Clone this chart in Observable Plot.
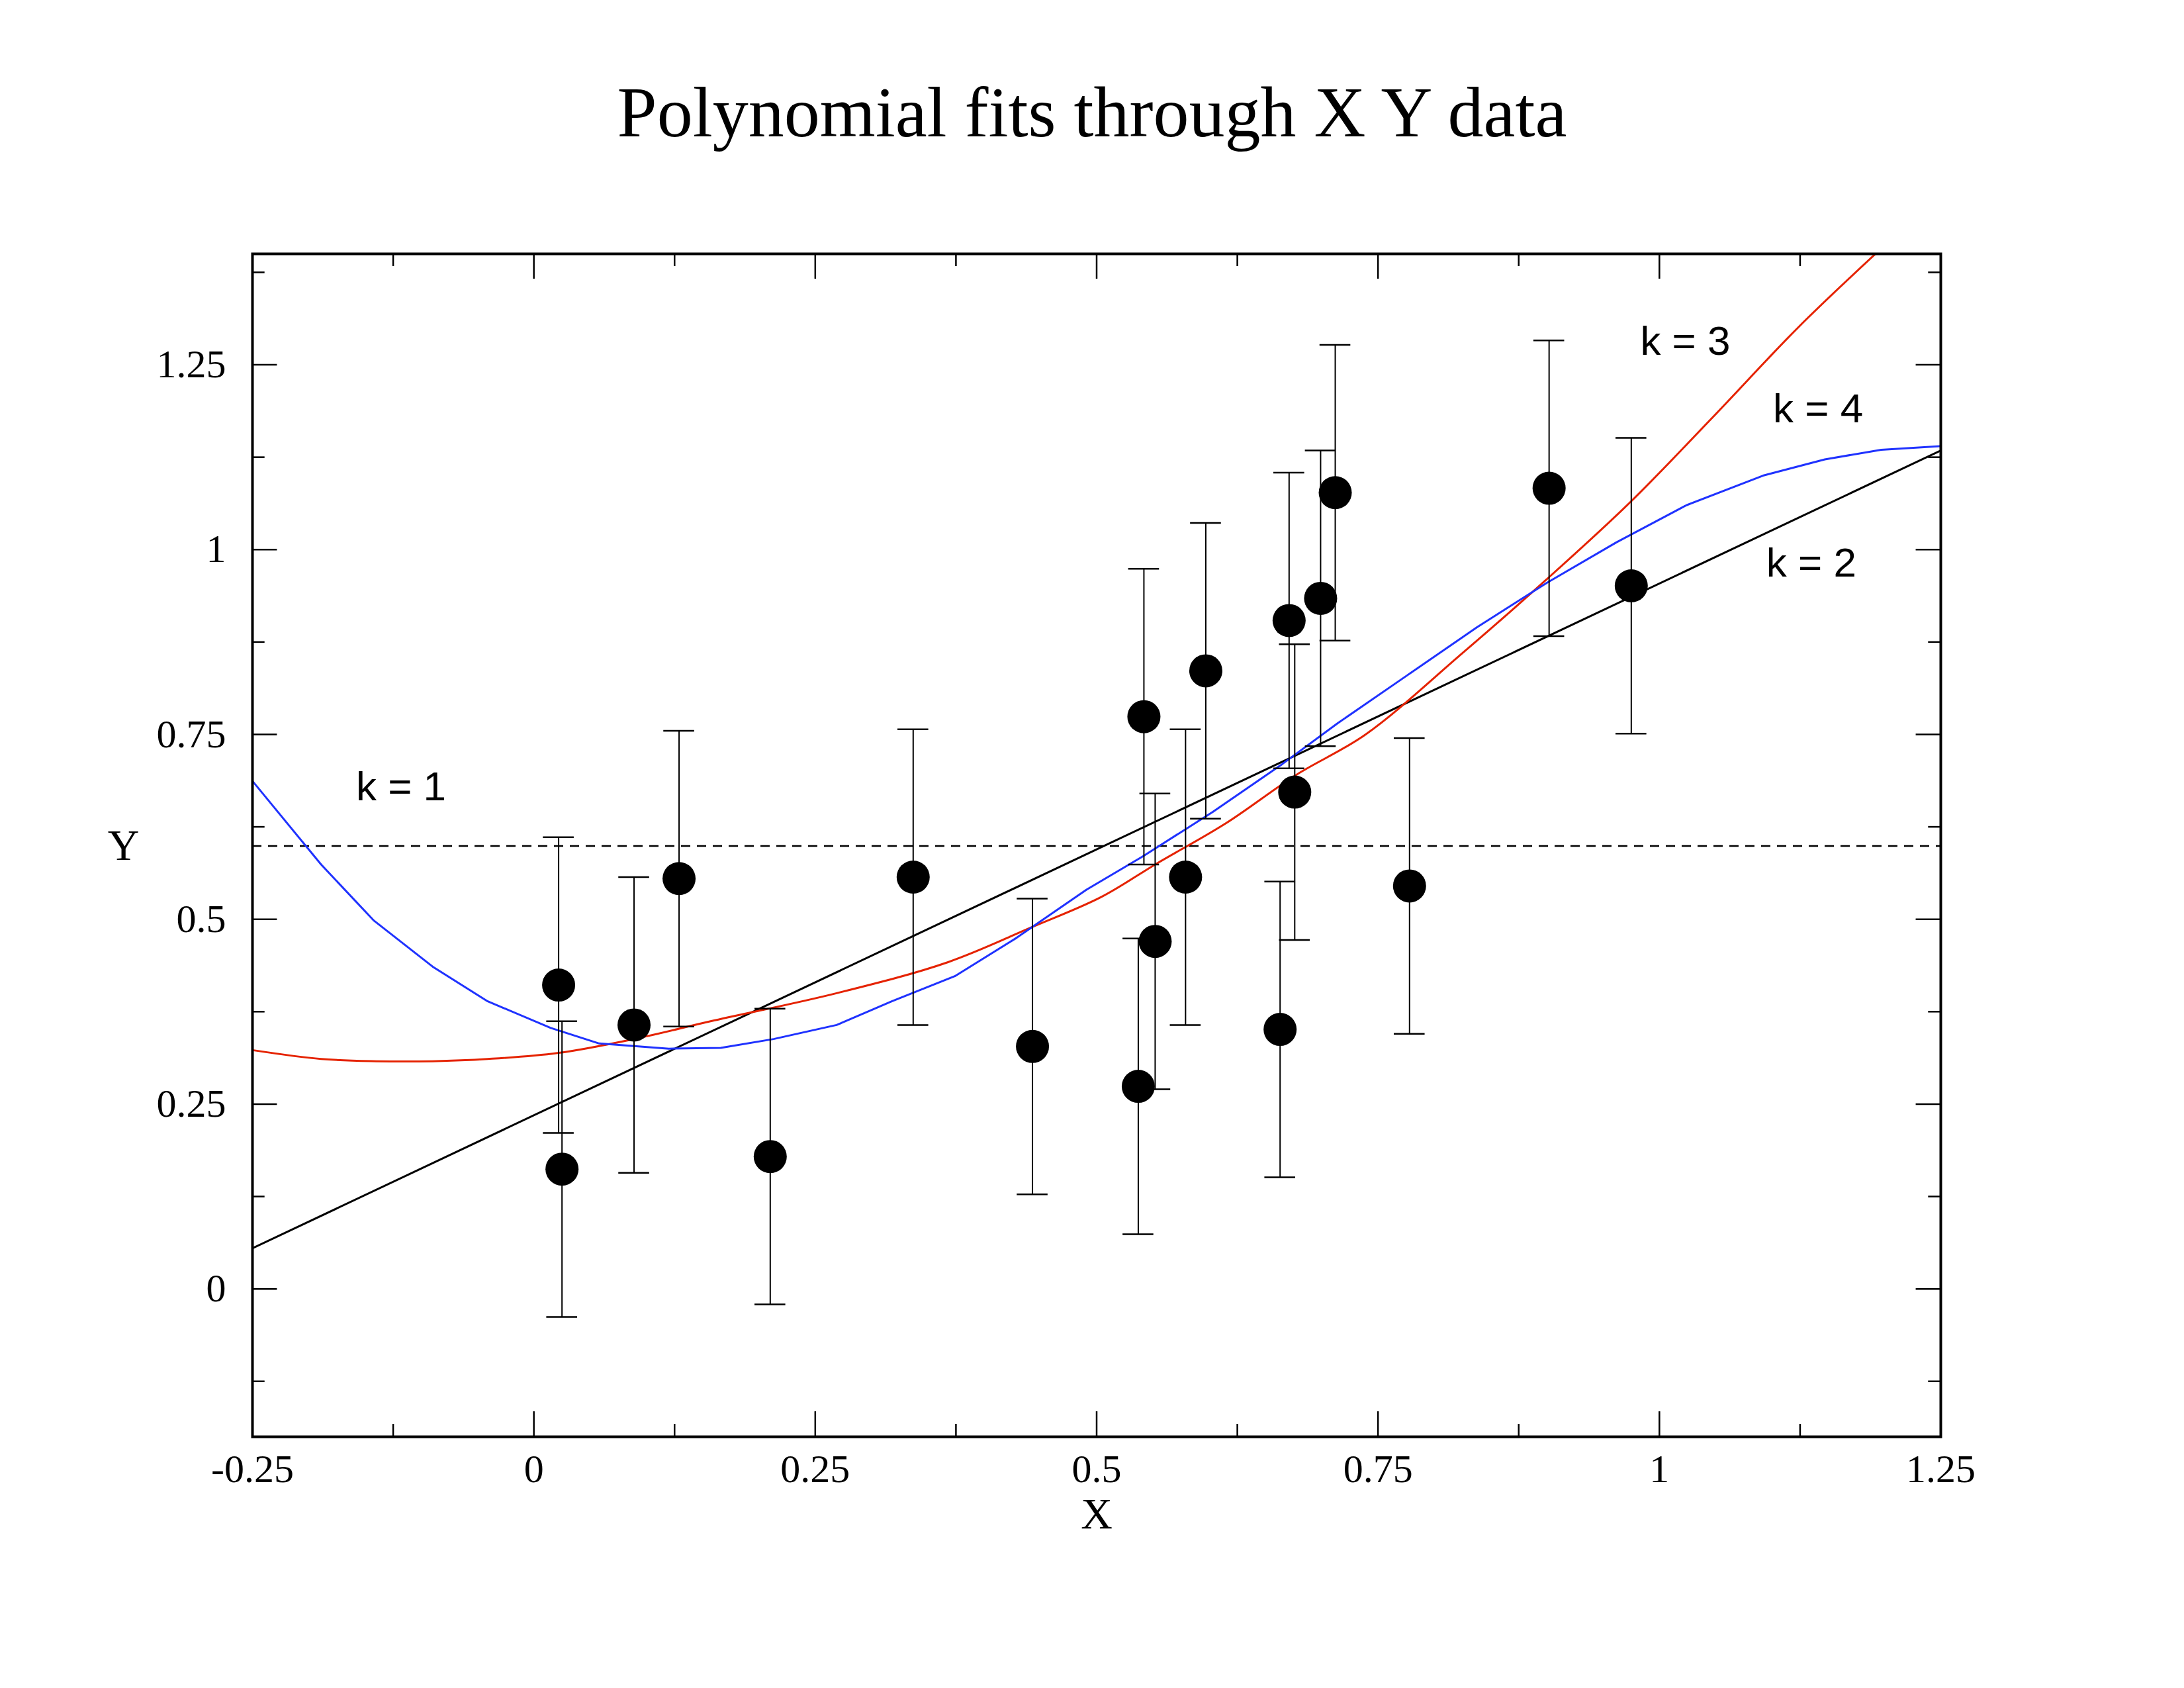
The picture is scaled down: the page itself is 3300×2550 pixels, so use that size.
<!DOCTYPE html>
<html><head><meta charset="utf-8">
<script src="https://cdn.jsdelivr.net/npm/d3@7"></script>
<script src="https://cdn.jsdelivr.net/npm/@observablehq/plot@0.6"></script>
<style>body{margin:0;background:#fff}#t{height:290px;box-sizing:border-box;padding-top:50px;display:flex;align-items:center;justify-content:center;font-family:"Liberation Serif",serif;font-size:108px}</style>
</head><body>
<div id="t">Polynomial fits through X Y data</div>
<div id="c"></div>
<script>
const px = [0.022,0.025,0.089,0.129,0.210,0.337,0.443,0.537,0.542,0.552,0.579,0.597,0.663,0.671,0.676,0.699,0.712,0.778,0.902,0.975];
const py = [0.411,0.162,0.357,0.555,0.179,0.557,0.328,0.274,0.774,0.470,0.557,0.836,0.351,0.904,0.672,0.934,1.077,0.545,1.083,0.951];
const err = 0.2;
const meanY = 0.599;
const k2x = [-0.25,1.25], k2y = [0.055,1.134];
const k3x = [-0.25,-0.189,-0.140,-0.090,-0.041,0.021,0.089,0.157,0.269,0.368,0.442,0.504,0.553,0.615,0.677,0.739,0.825,0.900,0.974,1.048,1.123,1.192];
const k3y = [0.323,0.311,0.308,0.308,0.311,0.319,0.338,0.362,0.400,0.442,0.489,0.530,0.575,0.630,0.695,0.750,0.860,0.960,1.064,1.180,1.300,1.400];
const k4x = [-0.25,-0.189,-0.142,-0.090,-0.041,0.015,0.058,0.120,0.166,0.213,0.269,0.318,0.374,0.429,0.491,0.541,0.603,0.665,0.714,0.776,0.838,0.900,0.962,1.024,1.092,1.147,1.197,1.25];
const k4y = [0.687,0.574,0.498,0.436,0.389,0.353,0.332,0.325,0.326,0.338,0.357,0.389,0.423,0.475,0.540,0.585,0.645,0.710,0.765,0.830,0.895,0.955,1.010,1.060,1.100,1.122,1.135,1.140];
const labels = [{x:-0.118,y:0.679,t:"k = 1"},{x:1.135,y:0.981,t:"k = 2"},{x:1.023,y:1.281,t:"k = 3"},{x:1.141,y:1.19,t:"k = 4"}];
const xTicks = [-0.25,0,0.25,0.5,0.75,1,1.25];
const yTicks = [0,0.25,0.5,0.75,1,1.25];
const xMinor = [-0.125,0.125,0.375,0.625,0.875,1.125];
const yMinor = [-0.125,0.125,0.375,0.625,0.875,1.125,1.375];

const pts = px.map((x,i)=>({x,y:py[i]}));
const zip=(a,b)=>a.map((x,i)=>({x,y:b[i]}));
const X0=-0.25,X1=1.25,Y0=-0.2,Y1=1.4;
const tl=0.034, tlx=0.022, capw=0.0137;
const xt = xTicks.slice(1,-1), yt=yTicks;
const tickRulesX=(arr,len)=>[Plot.ruleX(arr,{x:d=>d,y1:Y0,y2:Y0+len,stroke:"#000",strokeWidth:2.5}),Plot.ruleX(arr,{x:d=>d,y1:Y1,y2:Y1-len,stroke:"#000",strokeWidth:2.5})];
const tickRulesY=(arr,len)=>[Plot.ruleY(arr,{y:d=>d,x1:X0,x2:X0+len,stroke:"#000",strokeWidth:2.5}),Plot.ruleY(arr,{y:d=>d,x1:X1,x2:X1-len,stroke:"#000",strokeWidth:2.5})];
const fmt=d=>String(d);
const chart = Plot.plot({
  width:3300,height:2260,marginLeft:381,marginRight:368,marginTop:93,marginBottom:380,
  x:{domain:[X0,X1]},y:{domain:[Y0,Y1]},
  style:{fontFamily:"Liberation Serif, serif",background:"#fff"},
  marks:[
    ...tickRulesX(xt,tl),...tickRulesX(xMinor,tl/2),
    ...tickRulesY(yt,tlx),...tickRulesY(yMinor,tlx/2),
    Plot.axisX({ticks:xTicks,tickFormat:fmt,tickSize:0,tickPadding:26,fontSize:60,label:null}),
    Plot.axisY({ticks:yTicks,tickFormat:fmt,tickSize:0,tickPadding:40,fontSize:60,label:null}),
    Plot.text(["X"],{frameAnchor:"bottom",dy:138,fontSize:66}),
    Plot.text(["Y"],{dx:-195,fontSize:66,y:[meanY],x:[X0],textAnchor:"middle"}),
    Plot.ruleY([meanY],{stroke:"#000",strokeWidth:2.5,strokeDasharray:"14,10"}),
    Plot.line(zip(k2x,k2y),{x:"x",y:"y",stroke:"#000",strokeWidth:3,clip:"frame"}),
    Plot.line(zip(k3x,k3y),{x:"x",y:"y",stroke:"#e52200",strokeWidth:3,clip:"frame",curve:"catmull-rom"}),
    Plot.line(zip(k4x,k4y),{x:"x",y:"y",stroke:"#1f32ff",strokeWidth:3,clip:"frame"}),
    Plot.ruleX(pts,{x:"x",y1:d=>d.y-err,y2:d=>d.y+err,stroke:"#000",strokeWidth:2}),
    Plot.ruleY(pts,{y:d=>d.y-err,x1:d=>d.x-capw,x2:d=>d.x+capw,stroke:"#000",strokeWidth:2.5}),
    Plot.ruleY(pts,{y:d=>d.y+err,x1:d=>d.x-capw,x2:d=>d.x+capw,stroke:"#000",strokeWidth:2.5}),
    Plot.dot(pts,{x:"x",y:"y",r:25,fill:"#000"}),
    Plot.text(labels,{x:"x",y:"y",text:"t",fontSize:62,fontFamily:"Liberation Sans, sans-serif"}),
    Plot.frame({stroke:"#000",strokeWidth:4})
  ]
});
document.getElementById("c").appendChild(chart);
</script>
</body></html>
